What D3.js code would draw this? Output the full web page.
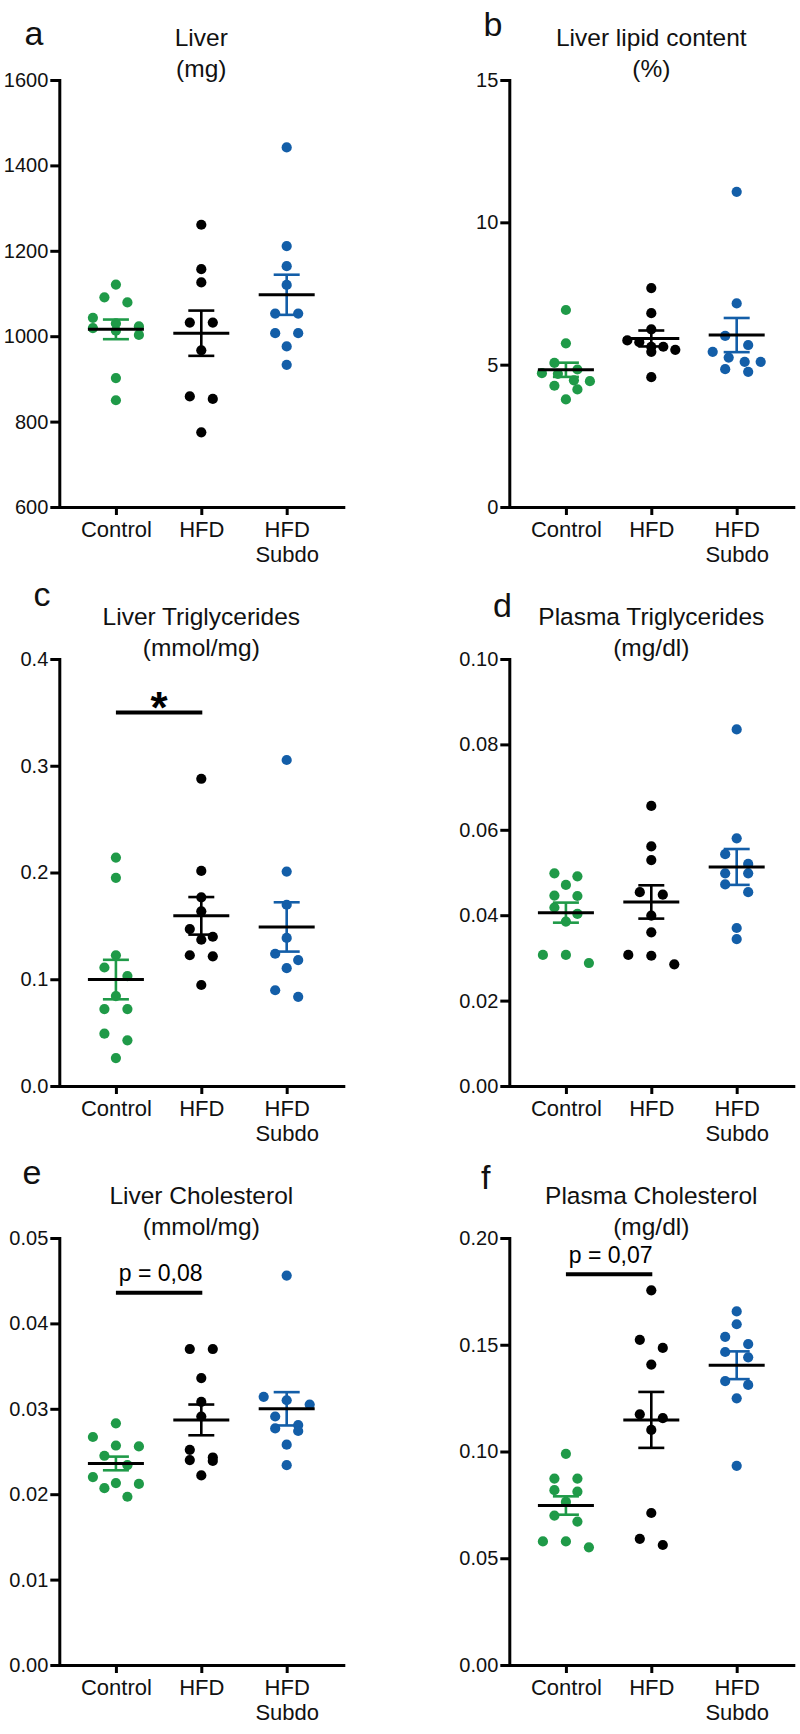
<!DOCTYPE html>
<html>
<head>
<meta charset="utf-8">
<script src="https://cdn.jsdelivr.net/npm/d3@7"></script>
<style>
  html, body { margin: 0; padding: 0; background: #fff; }
  svg { display: block; }
</style>
</head>
<body>
<script>
// ---------------- DATA ----------------
const groups = ["Control", "HFD", "HFD\nSubdo"];

// a: Liver (mg)
const liverCtrl = [1121, 1091, 1079, 1043, 1030, 1023, 1019, 1013, 1003, 902, 850];
const liverHFD  = [1261, 1157, 1126, 1032, 1032, 967, 859, 853, 775];
const liverSub  = [1442, 1211, 1164, 1120, 1053, 1053, 1007, 1007, 976, 933];
const liverMean = [1016, 1007, 1097];
const liverSem  = [23, 53, 47];
const liverTicks = [600, 800, 1000, 1200, 1400, 1600];

// b: Liver lipid content (%)
const lipidCtrl = [6.92, 5.75, 5.06, 4.83, 4.70, 4.68, 4.45, 4.42, 4.26, 4.13, 3.78];
const lipidHFD  = [7.69, 6.81, 6.24, 5.85, 5.79, 5.63, 5.63, 5.52, 5.45, 4.56];
const lipidSub  = [11.07, 7.15, 6.01, 5.69, 5.45, 5.25, 5.10, 5.10, 4.84, 4.75];
const lipidMean = [4.82, 5.92, 6.04];
const lipidSem  = [0.25, 0.28, 0.60];
const lipidTicks = [0, 5, 10, 15];

// c: Liver Triglycerides (mmol/mg)
const ltgCtrl = [0.214, 0.195, 0.1225, 0.111, 0.103, 0.0842, 0.0721, 0.0721, 0.049, 0.0428, 0.0262];
const ltgHFD  = [0.2878, 0.2015, 0.1767, 0.1636, 0.147, 0.1398, 0.137, 0.1225, 0.1215, 0.0946];
const ltgSub  = [0.3054, 0.2009, 0.1698, 0.1387, 0.1239, 0.118, 0.1104, 0.0897, 0.0835];
const ltgMean = [0.0997, 0.1594, 0.149];
const ltgSem  = [0.0185, 0.0176, 0.0231];
const ltgTicks = [0, 0.1, 0.2, 0.3, 0.4];

// d: Plasma Triglycerides (mg/dl)
const ptgCtrl = [0.0498, 0.0491, 0.0471, 0.0446, 0.0445, 0.0418, 0.0403, 0.0385, 0.0307, 0.0307, 0.0288];
const ptgHFD  = [0.0656, 0.0561, 0.0529, 0.0454, 0.0448, 0.0399, 0.036, 0.0307, 0.0305, 0.0285];
const ptgSub  = [0.0835, 0.058, 0.0543, 0.052, 0.0498, 0.0498, 0.0472, 0.0454, 0.037, 0.0344];
const ptgMean = [0.0406, 0.0431, 0.0513];
const ptgSem  = [0.00235, 0.0039, 0.0042];
const ptgTicks = [0, 0.02, 0.04, 0.06, 0.08, 0.10];

// e: Liver Cholesterol (mmol/mg)
const lchCtrl = [0.0283, 0.0267, 0.0257, 0.0256, 0.0245, 0.0234, 0.022, 0.0213, 0.0212, 0.0207, 0.0197];
const lchHFD  = [0.037, 0.037, 0.0336, 0.0308, 0.0291, 0.0252, 0.0243, 0.024, 0.0239, 0.0222];
const lchSub  = [0.0456, 0.0314, 0.031, 0.0305, 0.0291, 0.0281, 0.0277, 0.0274, 0.0258, 0.0234];
const lchMean = [0.0236, 0.0287, 0.0300];
const lchSem  = [0.0008, 0.0018, 0.00195];
const lchTicks = [0, 0.01, 0.02, 0.03, 0.04, 0.05];

// f: Plasma Cholesterol (mg/dl)
const pchCtrl = [0.0989, 0.0873, 0.0873, 0.0819, 0.0812, 0.0764, 0.07, 0.0672, 0.0579, 0.0579, 0.0551];
const pchHFD  = [0.1755, 0.1523, 0.1485, 0.1407, 0.1174, 0.1156, 0.1101, 0.0712, 0.0591, 0.0562];
const pchSub  = [0.1656, 0.1596, 0.1537, 0.1503, 0.1466, 0.1441, 0.133, 0.1312, 0.1249, 0.0933];
const pchMean = [0.0747, 0.1148, 0.1404];
const pchSem  = [0.0043, 0.0131, 0.0065];
const pchTicks = [0, 0.05, 0.10, 0.15, 0.20];

// significance annotations (y in data units, between Control and HFD)
const sigC = { y: 0.35,   label: "*" };
const sigE = { y: 0.0436, label: "p = 0,08" };
const sigF = { y: 0.183,  label: "p = 0,07" };

// ---------------- STYLE / LAYOUT ----------------
const W = 800, H = 1734;
const FONT = "'Liberation Sans', Arial, Helvetica, sans-serif";
const groupColors = ["#1f9a48", "#000000", "#135ea8"];
const TEXT = "#111";
const AXW = 3;
const colX = [59.3, 509.3];
const rowY = [0, 579, 1158];
const plotTop = 80, plotBot = 507, plotW = 284;
const R = 5.1;

const panels = [
  { letter: "a", lpos: [24.5, 44.5], col: 0, row: 0, title: ["Liver", "(mg)"],
    series: [liverCtrl, liverHFD, liverSub], mean: liverMean, sem: liverSem,
    domain: [600, 1600], ticks: liverTicks, fmt: d3.format("d") },
  { letter: "b", lpos: [483.5, 36], col: 1, row: 0, title: ["Liver lipid content", "(%)"],
    series: [lipidCtrl, lipidHFD, lipidSub], mean: lipidMean, sem: lipidSem,
    domain: [0, 15], ticks: lipidTicks, fmt: d3.format("d") },
  { letter: "c", lpos: [33.5, 27], col: 0, row: 1, title: ["Liver Triglycerides", "(mmol/mg)"],
    series: [ltgCtrl, ltgHFD, ltgSub], mean: ltgMean, sem: ltgSem,
    domain: [0, 0.4], ticks: ltgTicks, fmt: d3.format(".1f"), sig: sigC, star: true },
  { letter: "d", lpos: [493, 38], col: 1, row: 1, title: ["Plasma Triglycerides", "(mg/dl)"],
    series: [ptgCtrl, ptgHFD, ptgSub], mean: ptgMean, sem: ptgSem,
    domain: [0, 0.1], ticks: ptgTicks, fmt: d3.format(".2f") },
  { letter: "e", lpos: [22.5, 26], col: 0, row: 2, title: ["Liver Cholesterol", "(mmol/mg)"],
    series: [lchCtrl, lchHFD, lchSub], mean: lchMean, sem: lchSem,
    domain: [0, 0.05], ticks: lchTicks, fmt: d3.format(".2f"), sig: sigE },
  { letter: "f", lpos: [481, 31], col: 1, row: 2, title: ["Plasma Cholesterol", "(mg/dl)"],
    series: [pchCtrl, pchHFD, pchSub], mean: pchMean, sem: pchSem,
    domain: [0, 0.2], ticks: pchTicks, fmt: d3.format(".2f"), sig: sigF }
];

// GraphPad-like scatter: bin points into rows, spread each row symmetrically
function swarmX(values, y, cx) {
  const order = values.map((v, i) => i).sort((a, b) => values[b] - values[a]);
  const rows = [];
  let cur = null;
  for (const i of order) {
    const py = y(values[i]);
    if (cur && py - cur.y0 < 2 * R) cur.items.push(i);
    else { cur = { y0: py, items: [i] }; rows.push(cur); }
  }
  const xs = new Array(values.length);
  rows.forEach(r => {
    const n = r.items.length;
    const sp = n > 1 ? Math.min(23, 48 / (n - 1)) : 0;
    r.items.forEach((i, k) => { xs[i] = cx + (k - (n - 1) / 2) * sp; });
  });
  return xs;
}

const svg = d3.select("body").append("svg")
  .attr("width", W).attr("height", H)
  .attr("font-family", FONT);
svg.append("rect").attr("width", W).attr("height", H).attr("fill", "#fff");

panels.forEach(p => {
  const g = svg.append("g").attr("transform", `translate(${colX[p.col]},${rowY[p.row]})`);
  const x = d3.scalePoint().domain(groups).range([0, plotW]).padding(0.663);
  const y = d3.scaleLinear().domain(p.domain).range([plotBot, plotTop]);

  // panel letter
  g.append("text").attr("x", p.lpos[0] - colX[p.col]).attr("y", p.lpos[1])
    .attr("font-size", 34).attr("fill", TEXT).text(p.letter);

  // title
  const t = g.append("text").attr("text-anchor", "middle").attr("font-size", 24.5).attr("fill", TEXT);
  p.title.forEach((line, i) => {
    t.append("tspan").attr("x", plotW / 2).attr("y", 46 + i * 30.5).text(line);
  });

  // y axis
  const ya = g.append("g")
    .call(d3.axisLeft(y).tickValues(p.ticks).tickFormat(p.fmt).tickSize(9).tickSizeOuter(0).tickPadding(2));
  ya.attr("font-family", FONT).attr("font-size", 20);
  ya.select(".domain").attr("stroke", "#000").attr("stroke-width", AXW).attr("stroke-linecap", "square");
  ya.selectAll(".tick line").attr("stroke", "#000").attr("stroke-width", AXW);
  ya.selectAll(".tick text").attr("fill", TEXT);

  // x axis
  const xa = g.append("g").attr("transform", `translate(0,${plotBot})`)
    .call(d3.axisBottom(x).tickSize(8).tickSizeOuter(0).tickFormat(""));
  xa.select(".domain").attr("stroke", "#000").attr("stroke-width", AXW).attr("stroke-linecap", "square");
  xa.selectAll(".tick line").attr("stroke", "#000").attr("stroke-width", AXW);
  xa.selectAll(".tick text").remove();
  xa.selectAll(".tick").each(function(d) {
    const tx = d3.select(this).append("text")
      .attr("text-anchor", "middle").attr("fill", TEXT)
      .attr("font-family", FONT).attr("font-size", 22);
    d.split("\n").forEach((line, i) => {
      tx.append("tspan").attr("x", 0).attr("y", 29.7 + i * 25).text(line);
    });
  });

  // points
  p.series.forEach((vals, gi) => {
    const cx = x(groups[gi]);
    const xs = swarmX(vals, y, cx);
    g.append("g").selectAll("circle").data(vals).join("circle")
      .attr("cx", (d, i) => xs[i]).attr("cy", d => y(d)).attr("r", R)
      .attr("fill", groupColors[gi]);
  });

  // error bars and means
  groups.forEach((gname, gi) => {
    const cx = x(gname);
    const m = p.mean[gi], s = p.sem[gi];
    const eg = g.append("g").attr("stroke", groupColors[gi]).attr("stroke-width", 2.6);
    eg.append("line").attr("x1", cx).attr("x2", cx).attr("y1", y(m - s)).attr("y2", y(m + s));
    eg.append("line").attr("x1", cx - 13).attr("x2", cx + 13).attr("y1", y(m + s)).attr("y2", y(m + s));
    eg.append("line").attr("x1", cx - 13).attr("x2", cx + 13).attr("y1", y(m - s)).attr("y2", y(m - s));
    g.append("line").attr("x1", cx - 28).attr("x2", cx + 28).attr("y1", y(m)).attr("y2", y(m))
      .attr("stroke", "#000").attr("stroke-width", 3);
  });

  // significance annotation
  if (p.sig) {
    const x0 = x(groups[0]), x1 = x(groups[1]) + 1;
    const by = y(p.sig.y);
    g.append("line").attr("x1", x0).attr("x2", x1).attr("y1", by).attr("y2", by)
      .attr("stroke", "#000").attr("stroke-width", 4);
    if (p.star) {
      g.append("text").attr("x", (x0 + x1) / 2).attr("y", by + 10.5)
        .attr("text-anchor", "middle").attr("font-size", 44).attr("font-weight", "bold")
        .attr("fill", "#000").text(p.sig.label);
    } else {
      g.append("text").attr("x", (x0 + x1) / 2 + 1.5).attr("y", by - 11.5)
        .attr("text-anchor", "middle").attr("font-size", 23)
        .attr("fill", "#000").text(p.sig.label);
    }
  }
});
</script>
</body>
</html>
